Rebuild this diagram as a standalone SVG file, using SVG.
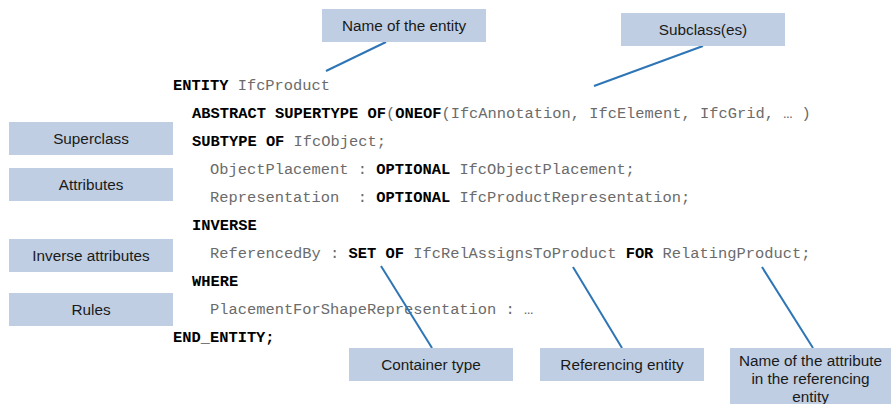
<svg xmlns="http://www.w3.org/2000/svg" width="891" height="404" viewBox="0 0 891 404">
<style>
.box{fill:#BFCEE2}
.lbl{font-family:"Liberation Sans",Arial,sans-serif;font-size:15.3px;fill:#1a1a1a;text-anchor:middle}
.code{font-family:"Liberation Mono","Courier New",monospace;font-size:15.4px;fill:#6b6b6b}
.kw{font-weight:bold;fill:#000}
.con{stroke:#2E75B6;stroke-width:2;fill:none}
</style>
<rect width="891" height="404" fill="#fff"/>
<g id="code">
<text class="code" x="173" y="90"><tspan class="kw">ENTITY</tspan> IfcProduct</text>
<text class="code" x="192" y="118"><tspan class="kw">ABSTRACT SUPERTYPE OF</tspan>(<tspan class="kw">ONEOF</tspan>(IfcAnnotation, IfcElement, IfcGrid, … )</text>
<text class="code" x="192" y="146"><tspan class="kw">SUBTYPE OF</tspan> IfcObject;</text>
<text class="code" x="210" y="174" xml:space="preserve">ObjectPlacement : <tspan class="kw">OPTIONAL</tspan> IfcObjectPlacement;</text>
<text class="code" x="210" y="202" xml:space="preserve">Representation  : <tspan class="kw">OPTIONAL</tspan> IfcProductRepresentation;</text>
<text class="code" x="192" y="230"><tspan class="kw">INVERSE</tspan></text>
<text class="code" x="210" y="258" xml:space="preserve">ReferencedBy : <tspan class="kw">SET OF</tspan> IfcRelAssignsToProduct <tspan class="kw">FOR</tspan> RelatingProduct;</text>
<text class="code" x="192" y="286"><tspan class="kw">WHERE</tspan></text>
<text class="code" x="210" y="314">PlacementForShapeRepresentation : …</text>
<text class="code" x="173" y="342"><tspan class="kw">END_ENTITY;</tspan></text>
</g>
<g id="connectors">
<line class="con" x1="386" y1="42" x2="326" y2="71"/>
<line class="con" x1="703" y1="46" x2="594" y2="86"/>
<line class="con" x1="381" y1="266" x2="432" y2="348"/>
<line class="con" x1="573" y1="267" x2="622" y2="348"/>
<line class="con" x1="762" y1="267" x2="813" y2="348"/>
</g>
<g id="name-entity"><rect class="box" x="322" y="9" width="164" height="33"/><text class="lbl" x="404" y="30.5">Name of the entity</text></g>
<g id="subclasses"><rect class="box" x="621" y="13" width="164" height="33"/><text class="lbl" x="703" y="34.5">Subclass(es)</text></g>
<g id="superclass"><rect class="box" x="9" y="122" width="164" height="33"/><text class="lbl" x="91" y="143.5">Superclass</text></g>
<g id="attributes"><rect class="box" x="9" y="168" width="164" height="33"/><text class="lbl" x="91" y="189.5">Attributes</text></g>
<g id="inverse-attributes"><rect class="box" x="9" y="239" width="164" height="33"/><text class="lbl" x="91" y="260.5">Inverse attributes</text></g>
<g id="rules"><rect class="box" x="9" y="293" width="164" height="33"/><text class="lbl" x="91" y="314.5">Rules</text></g>
<g id="container-type"><rect class="box" x="349" y="348" width="164" height="33"/><text class="lbl" x="431" y="369.5">Container type</text></g>
<g id="referencing-entity"><rect class="box" x="540" y="348" width="164" height="33"/><text class="lbl" x="622" y="369.5">Referencing entity</text></g>
<g id="attribute-name"><rect class="box" x="730" y="348" width="161" height="56"/><text class="lbl" x="810.5" y="366">Name of the attribute</text><text class="lbl" x="810.5" y="384">in the referencing</text><text class="lbl" x="810.5" y="402">entity</text></g>
</svg>
